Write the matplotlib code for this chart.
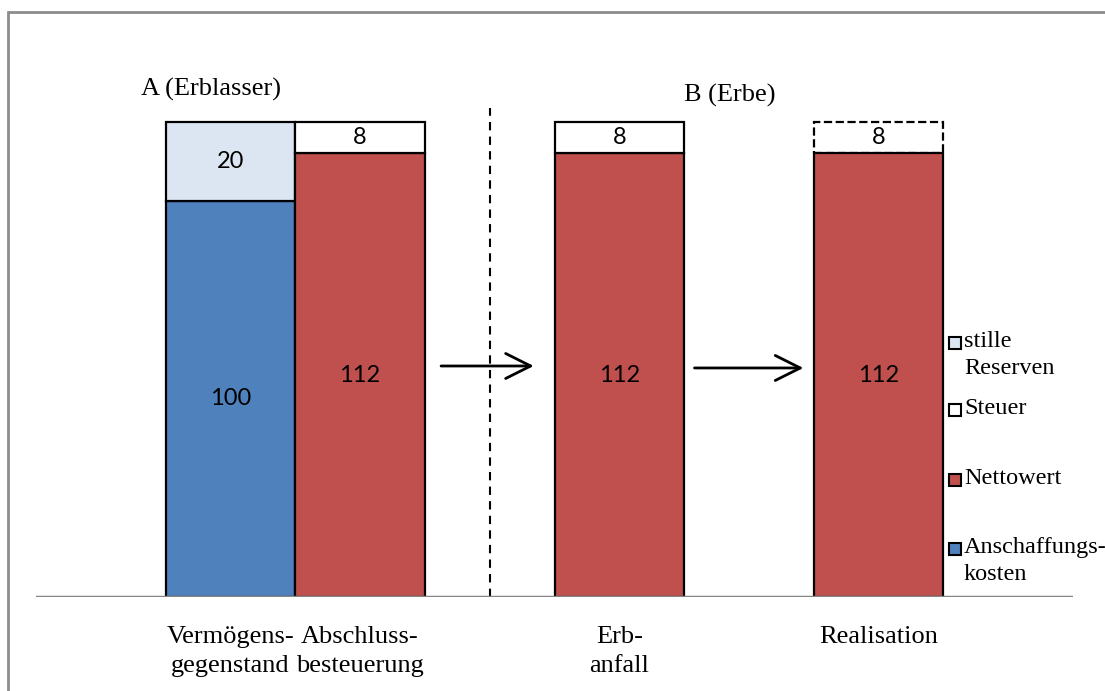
import matplotlib
matplotlib.use('Agg')
import matplotlib.pyplot as plt
from matplotlib.patches import Rectangle

# data
categories = ['Vermögens-\ngegenstand', 'Abschluss-\nbesteuerung', 'Erb-\nanfall', 'Realisation']
positions = [1.5, 2.5, 4.5, 6.5]
anschaffung = [100, 0, 0, 0]
stille = [20, 0, 0, 0]
netto = [0, 112, 112, 112]
steuer = [0, 8, 8, 8]

legend_labels = ['stille\nReserven', 'Steuer', 'Nettowert', 'Anschaffungs-\nkosten']

c_blue = '#4F81BD'
c_light = '#DCE6F2'
c_red = '#C0504D'
c_white = '#FFFFFF'
serif = 'Liberation Serif'
sans = 'Lato'

fig = plt.figure(figsize=(11.05, 6.91), dpi=100)
W, H = 1105.0, 691.0

# outer frame (runs off the right and bottom edge)
fig.patches.append(Rectangle((8 / W, -0.05), 1.1, (H - 12) / H + 0.05,
                             transform=fig.transFigure, fill=False,
                             edgecolor='#8C8C8C', lw=2))

ax = fig.add_axes([36 / W, 94 / H, 1037 / W, 585 / H])
ax.set_xlim(0, 8)
ax.set_ylim(0, 585 / 3.9625)
ax.axis('off')
ax.axhline(0, color='#868686', lw=2.5, zorder=5)

lw = 1.6
for i, x in enumerate(positions):
    bottom = 0
    for vals, col in [(anschaffung, c_blue), (stille, c_light),
                      (netto, c_red), (steuer, c_white)]:
        v = vals[i]
        if v == 0:
            continue
        # the tax share at realisation is only notional -> dashed outline
        style = '--' if (i == 3 and vals is steuer) else '-'
        ax.bar(x, v, width=1, bottom=bottom, color=col, edgecolor='black',
               linewidth=lw, linestyle=style, zorder=3 if style == '-' else 2)
        ax.text(x, bottom + v / 2, str(v), ha='center', va='center',
                fontsize=17, family=sans, zorder=6)
        bottom += v

# category labels
for x, lab in zip(positions, categories):
    ax.text(x, -7.3, lab, ha='center', va='top', fontsize=19, family=serif,
            linespacing=1.42)

# group titles
ax.text(1.35, 128, 'A (Erblasser)', ha='center', va='center', fontsize=19, family=serif)
ax.text(5.35, 126.5, 'B (Erbe)', ha='center', va='center', fontsize=19, family=serif)

# divider
ax.plot([3.5, 3.5], [0, 123.4], color='black', lw=1.5, ls=(0, (4, 3)), zorder=1)

# arrows
for x0, x1, y in [(3.125, 3.84, 58.3), (5.08, 5.92, 57.8)]:
    ax.annotate('', xy=(x1, y), xytext=(x0, y),
                arrowprops=dict(arrowstyle='->,head_length=0.9,head_width=0.45',
                                lw=2, color='black', mutation_scale=20,
                                shrinkA=0, shrinkB=0))

# legend
leg_colors = [c_light, c_white, c_red, c_blue]
leg_y = [343, 410, 480, 549]
for col, lab, yp in zip(leg_colors, legend_labels, leg_y):
    fig.patches.append(Rectangle((949 / W, (H - yp - 6) / H), 12 / W, 12 / H,
                                 transform=fig.transFigure, facecolor=col,
                                 edgecolor='black', lw=1.5))
    fig.text(964 / W, (H - yp + 12) / H, lab, ha='left', va='top',
             fontsize=17.5, family=serif, linespacing=1.4)

fig.savefig('out.png', dpi=100)
